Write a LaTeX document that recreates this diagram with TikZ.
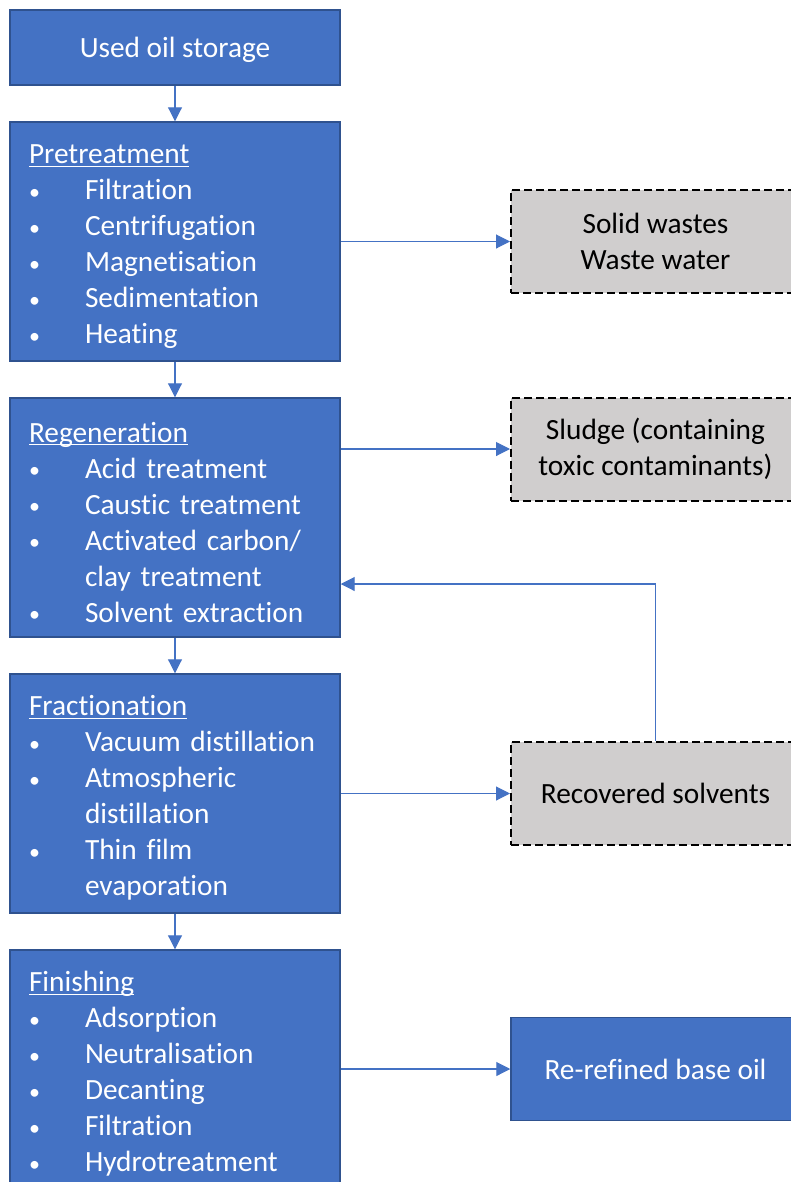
\documentclass[tikz,border=0pt]{standalone}
\usepackage{fontspec}
\setmainfont{Carlito}[Ligatures=NoCommon]
\usetikzlibrary{arrows.meta}
\definecolor{stageblue}{HTML}{4472C4}
\definecolor{stageedge}{HTML}{2F528F}
\definecolor{wastegray}{HTML}{D0CECE}
\newcommand{\headline}[1]{\rule{0pt}{22pt}\setbox0\hbox{#1}\rlap{\rule[-2.4pt]{\wd0}{0.9pt}}\box0}
\newcommand{\bul}{\makebox[42pt][l]{\raisebox{0.2pt}{\scalebox{0.75}{\textbullet}}}}
\newcommand{\cont}{\hspace*{42pt}}
\begin{document}
\begin{tikzpicture}[x=0.75pt, y=-0.75pt,
    box/.style={draw=stageedge, line width=1.1pt, fill=stageblue, text=white,
        minimum width=247.5pt, font=\fontsize{22}{27}\selectfont},
    stage/.style={box, minimum height=179.25pt, text width=219pt,
        inner xsep=14.25pt, align=left},
    waste/.style={draw=black, line width=1.5pt, dash pattern=on 6pt off 3pt,
        fill=wastegray, text=black, minimum width=216.75pt, minimum height=77.25pt,
        align=center, font=\fontsize{22}{27}\selectfont},
    flow/.style={draw=stageblue, line width=0.8pt,
        -{Triangle[length=10.5pt,width=10.5pt]}}]
    \useasboundingbox [fill=white] (0,0) rectangle (790,1182);
    % main line
    \node [box, minimum height=56.25pt, text depth=0pt] (store) at (175,47.5) {Used oil storage};
    \node [stage] (pre) at (175,241.5) {\headline{Pretreatment}\\
        \bul Filtration\\ \bul Centrifugation\\ \bul Magnetisation\\
        \bul Sedimentation\\ \bul Heating};
    \node [stage] (reg) at (175,517.5) {\headline{Regeneration}\\
        \bul Acid treatment\\ \bul Caustic treatment\\ \bul Activated carbon/\\
        \cont clay treatment\\ \bul Solvent extraction};
    \node [stage] (frac) at (175,793.5) {\headline{Fractionation}\\
        \bul Vacuum distillation\\ \bul Atmospheric\\ \cont distillation\\
        \bul Thin film\\ \cont evaporation};
    \node [stage] (fin) at (175,1069.5) {\headline{Finishing}\\
        \bul Adsorption\\ \bul Neutralisation\\ \bul Decanting\\
        \bul Filtration\\ \bul Hydrotreatment};
    % side products
    \node [waste] (solid) at (655.5,241.5) {Solid wastes\\Waste water};
    \node [waste] (sludge) at (655.5,449) {Sludge (containing\\toxic contaminants)};
    \node [waste] (solv) at (655.5,793.5) {Recovered solvents};
    \node [box, minimum width=216.75pt, minimum height=77.25pt] (base) at (655.5,1069) {Re-refined base oil};
    \coordinate (back) at (655.5,584);
    % arrows
    \draw [flow] (store) -- (pre);
    \draw [flow] (pre) -- (reg);
    \draw [flow] (reg) -- (frac);
    \draw [flow] (frac) -- (fin);
    \draw [flow] (pre) -- (solid);
    \draw [flow] (reg.east |- sludge.west) -- (sludge.west);
    \draw [flow] (frac) -- (solv);
    \draw [flow] (fin.east |- base.west) -- (base.west);
    \draw [flow] (solv.north) -- (back) -- (reg.east |- back);
\end{tikzpicture}
\end{document}
